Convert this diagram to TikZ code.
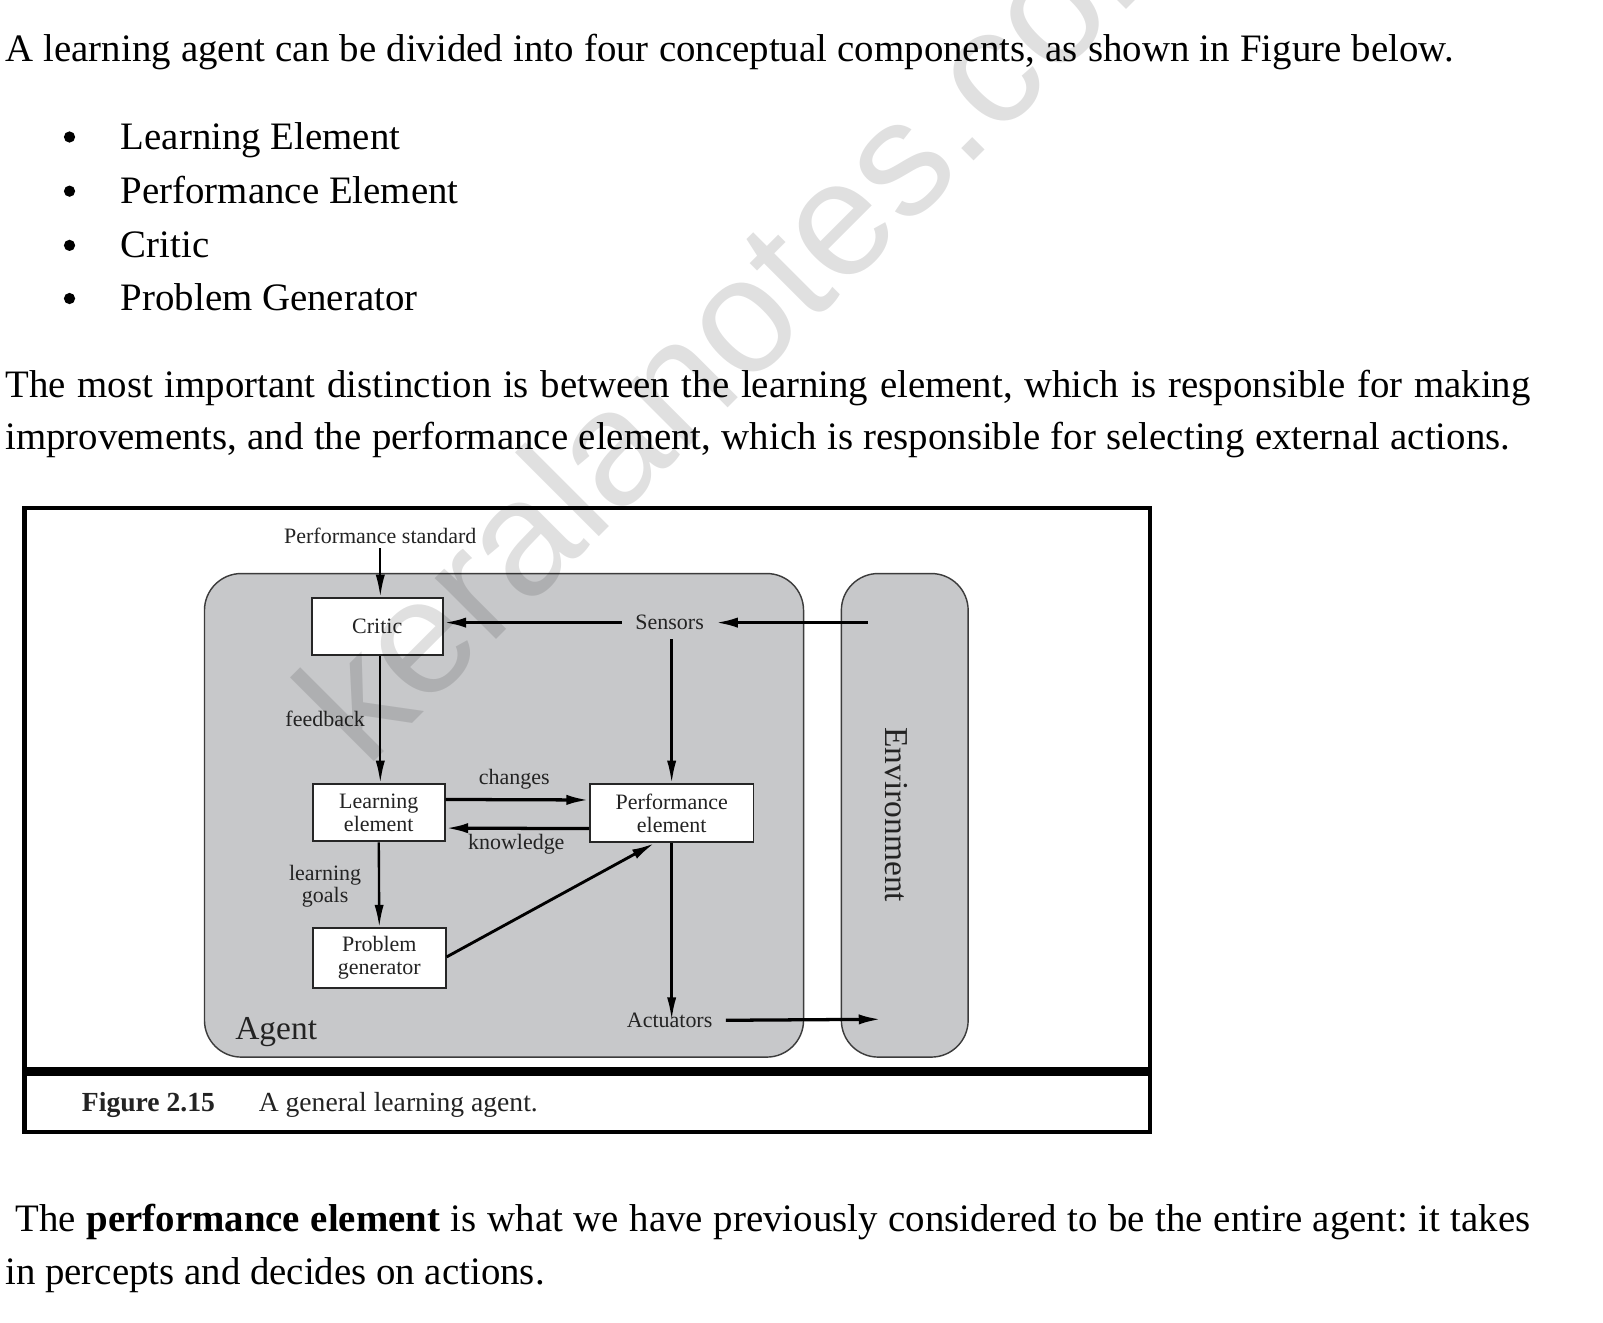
\documentclass[tikz,border=0pt]{standalone}
\usepackage{fontspec}
\setmainfont{Liberation Serif}
\newfontfamily\wmfont{Liberation Sans}
\usetikzlibrary{arrows.meta}
\definecolor{agentgray}{RGB}{199,200,202}
\definecolor{edgegray}{RGB}{60,60,60}
\definecolor{figtext}{RGB}{35,35,35}
\frenchspacing
\begin{document}
\begin{tikzpicture}[x=1pt,y=-1pt,
  body/.style={anchor=base west,inner sep=0pt,font=\fontsize{38}{44}\selectfont},
  lbl/.style={inner sep=0pt,font=\fontsize{21.5}{22}\selectfont,align=center,text=figtext},
  elbox/.style={draw=black!85,line width=1.8pt,fill=white,inner sep=0pt,
    font=\fontsize{21.5}{22}\selectfont,align=center,text=figtext},
  region/.style={draw=edgegray,line width=1.4pt,fill=agentgray,rounded corners=36pt},
  arr/.style={line width=2.3pt,-{Latex[length=22pt,width=9pt]}},
  harr/.style={line width=3.2pt,-{Latex[length=22pt,width=10pt]}},
  bul/.style={circle,fill=black,inner sep=0pt,minimum size=11pt},
]
\fill[white] (0,0) rectangle (1568,1294);
\useasboundingbox (0,0) rectangle (1568,1294);

% ---- text above the figure ----
\node[body] (t1) at (5,60) {\makebox[1417pt][s]{A learning agent can be divided into four conceptual components, as shown in Figure below.}};
\node[bul] (b1) at (68,134) {};
\node[bul] (b2) at (68,187) {};
\node[bul] (b3) at (68,240) {};
\node[bul] (b4) at (68,292) {};
\node[body] (i1) at (118,146) {Learning Element};
\node[body] (i2) at (118,199) {Performance Element};
\node[body] (i3) at (118,252) {Critic};
\node[body] (i4) at (118,304) {Problem Generator};
\node[body] (p1) at (5,389) {\makebox[1492pt][s]{The most important distinction is between the learning element, which is responsible for making}};
\node[body] (p2) at (5,440) {\makebox[1472pt][s]{improvements, and the performance element, which is responsible for selecting external actions.}};

% ---- figure frame ----
\draw[line width=4pt] (24,497) rectangle (1125,1107);
\draw[line width=8pt] (24,1048) -- (1125,1048);
\node[anchor=base west,inner sep=0pt,font=\fontsize{27}{30}\selectfont\bfseries,text=figtext] (fig) at (80,1087) {Figure 2.15};
\node[anchor=base west,inner sep=0pt,font=\fontsize{27}{30}\selectfont,text=figtext] (cap) at (253,1087) {A general learning agent.};

% ---- regions ----
\draw[region] (200,561) rectangle (786,1034);
\draw[region] (823,561) rectangle (947,1034);
\node[anchor=base west,inner sep=0pt,font=\fontsize{32.7}{34}\selectfont,text=figtext] (agent) at (230,1017) {Agent};
\node[rotate=-90,inner sep=0pt,font=\fontsize{32.7}{34}\selectfont,text=figtext] (env) at (877,797) {Environment};

% ---- nodes ----
\node[lbl,anchor=base] (perfstd) at (372,532) {Performance standard};
\node[elbox,minimum width=128pt,minimum height=56pt] (critic) at (369,613) {Critic};
\node[lbl,inner sep=3pt] (sensors) at (655,609) {Sensors};
\node[elbox,minimum width=129pt,minimum height=56pt] (learn) at (370.5,795) {Learning\\element};
\node[elbox,minimum width=160pt,minimum height=57pt] (perf) at (657,795.5) {Performance\\element};
\node[elbox,minimum width=130pt,minimum height=58pt] (prob) at (371,937) {Problem\\generator};
\node[lbl,inner sep=3pt] (act) at (655,998) {Actuators};
\node[lbl] (fb) at (318,703) {feedback};
\node[lbl] (lg) at (318,867) {learning\\goals};
\node[lbl] (chg) at (503,762) {changes};
\node[lbl] (kno) at (505,826) {knowledge};
\coordinate (envin) at (849,609);
\coordinate (envout) at (862,997);

% ---- connectors ----
\draw[arr] ([yshift=-4pt]perfstd.south) -- (perfstd.south |- critic.north);
\draw[harr] ([xshift=-10pt]sensors.west) -- (sensors.west -| critic.east);
\draw[harr] (envin) -- ([xshift=8pt]sensors.east);
\draw[arr] ([yshift=-6pt]sensors.south -| perf.north) -- (perf.north);
\draw[arr] (critic.south -| perfstd.south) -- (learn.north -| perfstd.south);
\draw[harr] ([yshift=13pt]learn.east) -- ([yshift=13pt]perf.west);
\draw[harr] ([yshift=-15pt]perf.west) -- ([yshift=-15pt]learn.east);
\draw[arr] (learn.south) -- (prob.north);
\draw[line width=2.8pt,-{Latex[length=22pt,width=10pt]}] ([yshift=1pt]prob.east) -- ([xshift=-17pt]perf.south);
\draw[arr] (perf.south) -- ([yshift=-10pt]act.north -| perf.south);
\draw[harr] ([xshift=10pt]act.east) -- (envout);

% ---- watermark ----
\node[rotate=45,anchor=base west,inner sep=0pt,font=\wmfont\fontsize{160}{160}\selectfont,text=black,text opacity=0.12] (wm) at (358,753) {keralanotes.com};

% ---- text below the figure ----
\node[body] (q1) at (15,1205) {\makebox[1482pt][s]{The \textbf{performance element} is what we have previously considered to be the entire agent: it takes}};
\node[body] (q2) at (5,1256) {in percepts and decides on actions.};
\end{tikzpicture}
\end{document}
